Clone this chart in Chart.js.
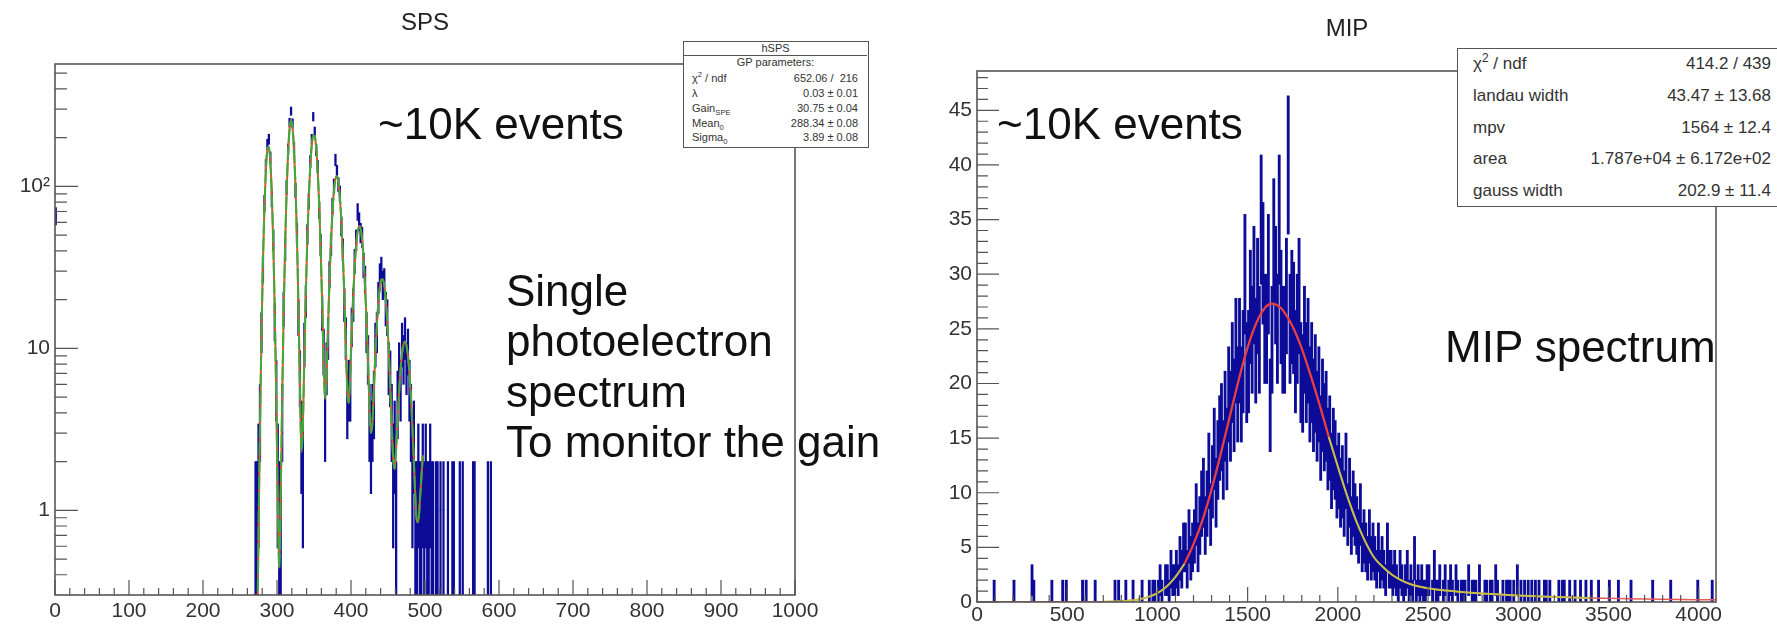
<!DOCTYPE html>
<html>
<head>
<meta charset="utf-8">
<script src="https://cdn.jsdelivr.net/npm/chart.js@4.4.1/dist/chart.umd.min.js"></script>
<style>
  body { margin: 0; background: #fff; }
  #page { position: relative; width: 1777px; height: 634px; overflow: hidden; background: #fff; }
  canvas { position: absolute; top: 0; }
  .txt { position: absolute; white-space: nowrap; line-height: 1; color: #111; }
  .big { font-family: 'Liberation Sans', sans-serif; font-size: 44px; }
  .title { font-family: 'Liberation Sans', sans-serif; font-size: 24px; color: #222; width: 200px; text-align: center; }
  .stats { position: absolute; background: #fff; border: 1.5px solid #555; box-sizing: border-box;
           font-family: 'Liberation Sans', sans-serif; color: #333; }
  .stats div { position: absolute; line-height: 1; white-space: nowrap; }
  .stats sup, .stats sub { font-size: 70%; line-height: 0; }
  #spsStats { left: 683px; top: 41px; width: 186px; height: 107px; font-size: 11px; }
  #spsStats .lab { left: 8px; }
  #spsStats .val { left: 0; width: 174px; text-align: right; }
  #mipStats { left: 1457px; top: 48px; width: 340px; height: 159px; font-size: 17px; }
  #mipStats .lab { left: 15px; }
  #mipStats .val { left: 0; width: 313px; text-align: right; }
</style>
</head>
<body>
<div id="page">
  <canvas id="spsChart" width="880" height="634" style="left:0"></canvas>
  <canvas id="mipChart" width="897" height="634" style="left:880px"></canvas>

  <div class="txt title" style="left:325px; top:10px">SPS</div>
  <div class="txt title" style="left:1247px; top:16px">MIP</div>

  <div class="txt big" style="left:378px; top:102px">~10K events</div>
  <div class="txt big" style="left:506px; top:269px">Single</div>
  <div class="txt big" style="left:506px; top:319px">photoelectron</div>
  <div class="txt big" style="left:506px; top:370px">spectrum</div>
  <div class="txt big" style="left:506px; top:420px">To monitor the gain</div>

  <div class="txt big" style="left:997px; top:102px">~10K events</div>
  <div class="txt big" style="left:1445px; top:325px">MIP spectrum</div>

  <div class="stats" id="spsStats">
    <div style="left:0; width:183px; text-align:center; top:1px">hSPS</div>
    <div style="left:0; top:12.5px; width:183px; border-top:1px solid #555"></div>
    <div style="left:0; width:183px; text-align:center; top:15px">GP parameters:</div>
    <div class="lab" style="top:31px">&chi;<sup>2</sup> / ndf</div><div class="val" style="top:31px">652.06 /&nbsp; 216</div>
    <div class="lab" style="top:46px">&lambda;</div><div class="val" style="top:46px">0.03 &plusmn; 0.01</div>
    <div class="lab" style="top:61px">Gain<sub>SPE</sub></div><div class="val" style="top:61px">30.75 &plusmn; 0.04</div>
    <div class="lab" style="top:76px">Mean<sub>0</sub></div><div class="val" style="top:76px">288.34 &plusmn; 0.08</div>
    <div class="lab" style="top:90px">Sigma<sub>0</sub></div><div class="val" style="top:90px">3.89 &plusmn; 0.08</div>
  </div>

  <div class="stats" id="mipStats">
    <div class="lab" style="top:6px">&chi;<sup>2</sup> / ndf</div><div class="val" style="top:6px">414.2 / 439</div>
    <div class="lab" style="top:38px">landau width</div><div class="val" style="top:38px">43.47 &plusmn; 13.68</div>
    <div class="lab" style="top:70px">mpv</div><div class="val" style="top:70px">1564 &plusmn; 12.4</div>
    <div class="lab" style="top:101px">area</div><div class="val" style="top:101px">1.787e+04 &plusmn; 6.172e+02</div>
    <div class="lab" style="top:133px">gauss width</div><div class="val" style="top:133px">202.9 &plusmn; 11.4</div>
  </div>
</div>

<script>
// ---- SPS: single photoelectron spectrum, 2-unit bins starting at 270 ----
const spsBinWidth = 2;
const spsFirstEdge = 270;
const spsCounts = [
  1, 1, 2, 4, 13, 31, 79, 135, 182, 196,
  151, 84, 47, 15, 6, 2, 1, 1, 4, 18,
  41, 99, 170, 248, 292, 246, 174, 95, 52, 16,
  7, 3, 2, 11, 20, 51, 82, 143, 196, 270,
  218, 168, 133, 72, 44, 17, 10, 4, 8, 12,
  29, 44, 76, 101, 146, 124, 103, 91, 57, 41,
  19, 12, 5, 6, 6, 14, 19, 35, 47, 70,
  61, 52, 49, 33, 27, 13, 9, 4, 3, 4,
  5, 11, 13, 21, 28, 31, 25, 26, 18, 16,
  8, 7, 4, 2, 3, 1, 5, 8, 6, 11,
  9, 12, 8, 10, 6, 4, 2, 3, 1, 1,
  2, 1, 1, 2, 1, 2, 1, 1, 2, 1,
  1, 0, 1, 1, 0, 1, 0, 1, 0, 0,
  1, 0, 0, 1, 1, 0, 0, 0, 1, 0,
  1, 0, 0, 0, 0, 0, 0, 1, 1, 0,
  0, 0, 0, 0, 0, 0, 0, 1, 0, 1
];
// lone bin at the left edge of the range
const spsExtraX = [1];
const spsExtraN = [66];

// multi-gaussian fit, sampled every 2 units from 273
const spsFitStart = 273;
const spsFitStep = 2;
const spsFitY = [
  0.12, 0.71, 3.3, 11.9, 33.6, 74, 127, 169, 175, 142,
  89, 43.8, 16.7, 4.97, 1.19, 0.44, 1.22, 4.87, 16.2, 43.4,
  93, 162, 226, 255, 231, 169, 99.6, 47.2, 18.1, 5.8,
  2.3, 3.4, 9.05, 22.3, 47.4, 86.3, 135, 181, 207, 204,
  172, 125, 77.5, 41.3, 19.1, 8.2, 4.9, 6.8, 13.8, 26.7,
  46.2, 70.4, 94.3, 111.4, 115.7, 105.8, 85.2, 60.4, 37.6, 20.8,
  10.5, 5.5, 4.6, 7.0, 12.6, 21.2, 32.2, 43.7, 52.8, 57,
  54.7, 46.8, 35.7, 24.3, 14.9, 8.2, 4.4, 3.0, 3.5, 5.7,
  9.3, 14.0, 19.3, 23.8, 26.6, 26.7, 24.2, 19.8, 14.5, 9.7,
  5.9, 3.4, 2.1, 1.8, 2.4, 3.6, 5.35, 7.4, 9.3, 10.6,
  11, 10.4, 8.9, 7.0, 5.0, 3.25, 1.97, 1.19, 0.85, 0.85,
  1.13, 1.57, 2.18
];
const spsXTicks = [0, 100, 200, 300, 400, 500, 600, 700, 800, 900, 1000];
const spsYTicks = [1, 10, 100];
const spsYLabels = ['1', '10', '10\u00B2'];

// ---- MIP: 10-unit bins starting at 950 ----
const mipBinWidth = 10;
const mipFirstEdge = 950;
const mipCounts = [
  1, 0, 1, 1, 0,     1, 2, 1, 0, 2,     2, 1, 3, 2, 2,     3, 2, 4, 3, 5,
  5, 3, 6, 4, 5,     6, 8, 5, 7, 9,     10, 7, 9, 12, 8,   11, 14, 10, 13, 15,
  16, 13, 17, 14, 19,  17, 21, 18, 23, 19,  23, 19, 22, 30, 21,  22, 27, 24, 29, 23,
  28, 24, 35, 31, 25,  25, 30, 18, 24, 33,  29, 25, 35, 27, 24,  24, 28, 40, 25, 27,
  26, 22, 25, 28, 21,  20, 24, 21, 23, 19,  21, 18, 20, 17, 19,  15, 18, 16, 17, 14,
  15, 12, 14, 13, 11,  12, 10, 11, 9, 12,   8, 10, 7, 9, 8,    7, 6, 8, 5, 6,
  5, 4, 6, 4, 5,     4, 3, 5, 3, 4,     3, 2, 5, 3, 3,     2, 3, 2, 1, 3,
  2, 1, 2, 3, 1,     2, 1, 4, 1, 2,     1, 2, 1, 1, 2,     2, 0, 1, 3, 1,
  1, 2, 0, 1, 2,     0, 1, 2, 1, 0,     2, 1, 0, 1, 1,     1, 0, 2, 0, 1,
  1, 1, 0, 2, 0,     0, 1, 1, 0, 1,     1, 0, 2, 1, 0,     0, 1, 0, 1, 1,
  1, 0, 1, 0, 2,     0, 1, 0, 1, 0,     1, 0, 1, 0, 1,     0, 1, 0, 0, 1,
  1, 0, 1, 0, 0,     0, 0, 1, 0, 1,     1, 0, 0, 1, 0,     0, 1, 0, 0, 1,
  0, 0, 1, 0, 0,     1, 0, 0, 0, 1
];
// scattered single entries outside the main block (bin centres)
const mipExtraX = [95, 205, 305, 315, 415, 475, 495, 585, 605, 655, 765, 785, 825, 865, 915,
                   3505, 3555, 3625, 3745, 3845, 3995, 4075];
const mipExtraN = [1, 1, 2, 1, 1, 1, 1, 1, 1, 1, 1, 1, 1, 1, 1,
                   1, 1, 1, 1, 1, 1, 1];

// landau (x) gauss fit curve
const mipFitX = [0, 400, 700, 800, 850, 900, 950, 1000, 1050, 1100, 1150, 1200, 1250, 1300,
                 1350, 1400, 1450, 1500, 1550, 1600, 1635, 1670, 1700, 1750, 1800, 1850, 1900,
                 1950, 2000, 2050, 2100, 2150, 2200, 2250, 2300, 2350, 2400, 2450, 2500, 2600,
                 2700, 2800, 2900, 3000, 3100, 3200, 3300, 3400, 3600, 3800, 4096];
const mipFitY = [0.02, 0.02, 0.03, 0.06, 0.13, 0.25, 0.47, 0.82, 1.4, 2.3, 3.5, 5.3, 7.5, 10.3,
                 13.5, 16.9, 20.3, 23.3, 25.6, 27.0, 27.3, 27.1, 26.6, 25.2, 23.2, 20.7, 18.0,
                 15.1, 12.4, 9.8, 7.5, 5.6, 4.1, 3.2, 2.5, 2.0, 1.65, 1.42, 1.25, 1.05,
                 0.9, 0.78, 0.68, 0.6, 0.52, 0.46, 0.41, 0.36, 0.3, 0.25, 0.2];
const mipXTicks = [0, 500, 1000, 1500, 2000, 2500, 3000, 3500, 4000];
const mipYTicks = [0, 5, 10, 15, 20, 25, 30, 35, 40, 45];

const histBlue = 'rgb(12,12,152)';
const tickFont = { family: 'Liberation Sans', size: 21 };

function collectBins(firstEdge, width, counts, extraX, extraN) {
  const bins = [];
  counts.forEach((n, i) => { if (n > 0) bins.push({ x: firstEdge + width * (i + 0.5), n }); });
  extraX.forEach((x, i) => bins.push({ x, n: extraN[i] }));
  return bins;
}

// ROOT-style "E" drawing: vertical sqrt(N) error bar plus a horizontal segment over the bin
function histDatasets(bins, width, logY, barPx) {
  return [
    {
      type: 'bar',
      data: bins.map(b => {
        const e = Math.sqrt(b.n);
        const lo = logY ? Math.max(b.n - e, 1e-3) : b.n - e;
        return { x: b.x, y: [lo, b.n + e] };
      }),
      backgroundColor: histBlue,
      borderWidth: 0,
      barThickness: barPx,
      order: 5
    },
    {
      type: 'scatter',
      data: bins.map(b => ({ x: b.x, y: b.n })),
      pointStyle: 'line',
      pointBorderColor: histBlue,
      pointBorderWidth: 1.2,
      pointRadius: ctx => {
        const s = ctx.chart.scales.x;
        return Math.abs(s.getPixelForValue(width) - s.getPixelForValue(0)) / 2;
      },
      order: 4
    }
  ];
}

function curve(xs, ys, color, width, order, extra) {
  return Object.assign({
    type: 'line',
    data: xs.map((x, i) => ({ x, y: ys[i] })),
    borderColor: color,
    borderWidth: width,
    pointRadius: 0,
    fill: false,
    cubicInterpolationMode: 'monotone',
    order
  }, extra || {});
}

function slice(xs, ys, lo, hi) {
  const sx = [], sy = [];
  xs.forEach((x, i) => { if (x >= lo && x <= hi) { sx.push(x); sy.push(ys[i]); } });
  return [sx, sy];
}

// inward ticks and the frame box, placed through the chart scales
const rootAxes = {
  id: 'rootAxes',
  afterDatasetsDraw(chart, args, o) {
    const { ctx, chartArea: a, scales: { x, y } } = chart;
    ctx.save();
    ctx.strokeStyle = '#555';
    ctx.lineWidth = 1.2;
    ctx.beginPath();
    const xt = (list, len) => list.forEach(v => {
      const p = x.getPixelForValue(v);
      ctx.moveTo(p, a.bottom); ctx.lineTo(p, a.bottom - len);
    });
    const yt = (list, len) => list.forEach(v => {
      const p = y.getPixelForValue(v);
      if (p < a.top - 0.5 || p > a.bottom + 0.5) return;
      ctx.moveTo(a.left, p); ctx.lineTo(a.left + len, p);
    });
    xt(o.xMinor, o.xMinorLen); xt(o.xMajor, o.xMajorLen);
    yt(o.yMinor, o.yMinorLen); yt(o.yMajor, o.yMajorLen);
    ctx.stroke();
    ctx.lineWidth = 1.6;
    ctx.strokeRect(a.left, a.top, a.right - a.left, a.bottom - a.top);
    ctx.restore();
  }
};

function range(lo, hi, step) {
  const out = [];
  for (let v = lo; v <= hi + 1e-9; v += step) out.push(+v.toFixed(6));
  return out;
}

const plainLabel = v => String(v);

// ---- SPS chart ----
const spsBins = collectBins(spsFirstEdge, spsBinWidth, spsCounts, spsExtraX, spsExtraN);
const spsFitX = spsFitY.map((_, i) => spsFitStart + spsFitStep * i);
const spsLogMinor = [0.4, 0.5, 0.6, 0.7, 0.8, 0.9, 2, 3, 4, 5, 6, 7, 8, 9,
                     20, 30, 40, 50, 60, 70, 80, 90, 200, 300, 400, 500];

new Chart(document.getElementById('spsChart'), {
  type: 'scatter',
  data: {
    datasets: [
      curve(spsFitX, spsFitY, 'rgb(60,170,60)', 2, 1, { borderDash: [14, 3] }),
      curve(spsFitX, spsFitY, 'rgb(220,90,40)', 2, 2),
      ...histDatasets(spsBins, spsBinWidth, true, 1.6)
    ]
  },
  options: {
    responsive: false,
    animation: false,
    events: [],
    layout: { padding: { left: 0, top: 64, right: 85, bottom: 0 } },
    plugins: {
      legend: { display: false },
      tooltip: { enabled: false },
      rootAxes: {
        xMajor: spsXTicks, xMinor: range(0, 1000, 20), xMajorLen: 15, xMinorLen: 7,
        yMajor: spsYTicks, yMinor: spsLogMinor, yMajorLen: 23, yMinorLen: 12
      }
    },
    scales: {
      x: {
        type: 'linear', min: 0, max: 1000, bounds: 'data', offset: false,
        grid: { display: false, drawTicks: false, offset: false }, border: { display: false },
        ticks: { font: tickFont, color: '#333', padding: 4, maxRotation: 0, callback: plainLabel },
        afterBuildTicks: s => { s.ticks = spsXTicks.map(v => ({ value: v })); },
        afterFit: s => { s.height = 39; }
      },
      y: {
        type: 'logarithmic', min: 0.3, max: 570, bounds: 'data',
        grid: { display: false, drawTicks: false }, border: { display: false },
        ticks: { font: tickFont, color: '#333', padding: 5, callback: (v, i) => spsYLabels[i] },
        afterBuildTicks: s => { s.ticks = spsYTicks.map(v => ({ value: v })); },
        afterFit: s => { s.width = 55; }
      }
    }
  },
  plugins: [rootAxes]
});

// ---- MIP chart ----
const mipBins = collectBins(mipFirstEdge, mipBinWidth, mipCounts, mipExtraX, mipExtraN);
const [yl1x, yl1y] = slice(mipFitX, mipFitY, 700, 1150);
const [yl2x, yl2y] = slice(mipFitX, mipFitY, 1950, 3400);
const [rfx, rfy] = slice(mipFitX, mipFitY, 1150, 1950);

new Chart(document.getElementById('mipChart'), {
  type: 'scatter',
  data: {
    datasets: [
      curve(rfx, rfy, 'rgb(232,62,62)', 2.2, 1),
      curve(yl1x, yl1y, 'rgb(196,192,72)', 2, 2),
      curve(yl2x, yl2y, 'rgb(196,192,72)', 2, 2),
      curve(mipFitX, mipFitY, 'rgb(232,90,90)', 1.5, 3),
      ...histDatasets(mipBins, mipBinWidth, false, 2.2)
    ]
  },
  options: {
    responsive: false,
    animation: false,
    events: [],
    layout: { padding: { left: 0, top: 71, right: 61, bottom: 0 } },
    plugins: {
      legend: { display: false },
      tooltip: { enabled: false },
      rootAxes: {
        xMajor: mipXTicks, xMinor: range(0, 4000, 100), xMajorLen: 15, xMinorLen: 7,
        yMajor: mipYTicks, yMinor: range(0, 48, 1), yMajorLen: 22, yMinorLen: 11
      }
    },
    scales: {
      x: {
        type: 'linear', min: 0, max: 4096, bounds: 'data', offset: false,
        grid: { display: false, drawTicks: false, offset: false }, border: { display: false },
        ticks: { font: tickFont, color: '#333', padding: 1, maxRotation: 0, callback: plainLabel },
        afterBuildTicks: s => { s.ticks = mipXTicks.map(v => ({ value: v })); },
        afterFit: s => { s.height = 32; }
      },
      y: {
        type: 'linear', min: 0, max: 48.6, bounds: 'data',
        grid: { display: false, drawTicks: false }, border: { display: false },
        ticks: { font: tickFont, color: '#333', padding: 5, callback: plainLabel },
        afterBuildTicks: s => { s.ticks = mipYTicks.map(v => ({ value: v })); },
        afterFit: s => { s.width = 97; }
      }
    }
  },
  plugins: [rootAxes]
});
</script>
</body>
</html>
